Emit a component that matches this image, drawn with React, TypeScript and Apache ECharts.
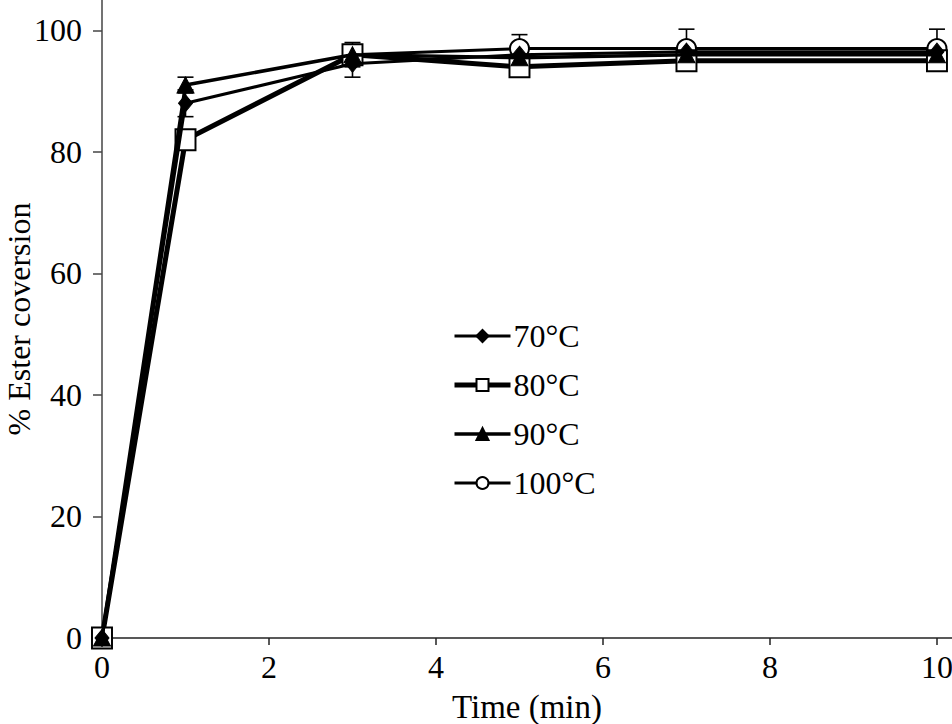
import React, { useEffect, useRef } from "react";
import * as echarts from "echarts";

const times = [0, 1, 3, 5, 7, 10];
const s70 = [0, 88, 94.5, 96, 96.5, 96.5];
const s80 = [0, 82, 96, 94, 95, 95];
const s90 = [0, 91, 96, 95.5, 96, 96];
const s100 = [0, 82, 96, 97, 97, 97];
const e70 = [0, 2.2, 2.2, 0, 0, 0];
const e80 = [0, 0, 2, 0, 0, 0];
const e90 = [0, 1.3, 0, 0, 0, 0];
const e100 = [0, 0, 0, 2.3, 3.2, 3.2];
const xTicks = [0, 2, 4, 6, 8, 10];
const yTicks = [0, 20, 40, 60, 80, 100];
const names = ["70°C", "80°C", "90°C", "100°C"];

const FONT = "Liberation Serif";

export default function App() {
  const ref = useRef<HTMLDivElement>(null);
  useEffect(() => {
    if (!ref.current) return;
    const chart = echarts.init(ref.current, null, { renderer: "svg" });
    const pts = (ys: number[]) => times.map((t, i) => [t, ys[i]]);
    const errData: number[][] = [];
    [
      [s70, e70],
      [s80, e80],
      [s90, e90],
      [s100, e100],
    ].forEach(([ys, es]) => {
      times.forEach((t, i) => {
        if (es[i] > 0) errData.push([t, ys[i] - es[i], ys[i] + es[i]]);
      });
    });
    const lineSeries = (
      name: string,
      ys: number[],
      symbol: string,
      size: any,
      filled: boolean,
      width: number,
      z: number
    ) => ({
      type: "line",
      name,
      data: pts(ys),
      symbol,
      symbolSize: size,
      showAllSymbol: true,
      lineStyle: { color: "#000", width },
      itemStyle: filled
        ? { color: "#000", borderColor: "#000", borderWidth: 1 }
        : { color: "#fff", borderColor: "#000", borderWidth: 2 },
      z,
    });
    chart.setOption({
      animation: false,
      backgroundColor: "#fff",
      textStyle: { fontFamily: FONT, color: "#000" },
      grid: { left: 102, right: 0, top: 0, bottom: 86, containLabel: false, outerBoundsMode: "none" },
      legend: {
        orient: "vertical",
        left: 447,
        top: 315,
        itemWidth: 56,
        itemHeight: 15,
        itemGap: 17,
        data: [
          { name: names[0], lineStyle: { width: 3 } },
          { name: names[1], lineStyle: { width: 5 } },
          { name: names[2], lineStyle: { width: 3.5 } },
          { name: names[3], lineStyle: { width: 3 } },
        ],
        textStyle: { fontFamily: FONT, fontSize: 32, color: "#000", padding: [0, 0, 0, -2] },
      },
      xAxis: {
        type: "value",
        min: 0,
        max: 10.18,
        name: "Time (min)",
        nameLocation: "middle",
        nameGap: 52,
        nameMoveOverlap: false,
        nameTextStyle: { fontFamily: FONT, fontSize: 33, color: "#000", lineHeight: 33 },
        axisLine: { show: true, onZero: false, lineStyle: { color: "#222", width: 1.5 } },
        axisTick: { show: true, length: 7, customValues: xTicks, lineStyle: { color: "#222", width: 1.5 } },
        axisLabel: { customValues: xTicks, fontFamily: FONT, fontSize: 32, color: "#000", margin: 13 },
        splitLine: { show: false },
      },
      yAxis: {
        type: "value",
        min: 0,
        max: 105,
        name: "% Ester coversion",
        nameLocation: "middle",
        nameGap: 67,
        nameMoveOverlap: false,
        nameTextStyle: { fontFamily: FONT, fontSize: 32, color: "#000", lineHeight: 32 },
        axisLine: { show: true, onZero: false, lineStyle: { color: "#444", width: 1.5 } },
        axisTick: { show: true, length: 9, customValues: yTicks, lineStyle: { color: "#444", width: 1.5 } },
        axisLabel: { customValues: yTicks, fontFamily: FONT, fontSize: 32, color: "#000", margin: 20 },
        splitLine: { show: false },
      },
      series: [
        {
          type: "custom",
          name: "err",
          data: errData,
          z: 2,
          renderItem: (params: any, api: any) => {
            const x = api.value(0);
            const lo = api.coord([x, api.value(1)]);
            const hi = api.coord([x, api.value(2)]);
            const hw = 8;
            const st = { stroke: "#000", lineWidth: 1.6 };
            return {
              type: "group",
              children: [
                { type: "line", shape: { x1: lo[0], y1: lo[1], x2: hi[0], y2: hi[1] }, style: st },
                { type: "line", shape: { x1: hi[0] - hw, y1: hi[1], x2: hi[0] + hw, y2: hi[1] }, style: st },
                { type: "line", shape: { x1: lo[0] - hw, y1: lo[1], x2: lo[0] + hw, y2: lo[1] }, style: st },
              ],
            };
          },
        },
        lineSeries(names[0], s70, "diamond", [14, 17], true, 3, 5),
        lineSeries(names[1], s80, "rect", [20, 21], false, 5, 4),
        lineSeries(names[2], s90, "triangle", [17, 16], true, 3.5, 5),
        lineSeries(names[3], s100, "circle", 19, false, 3, 3),
      ],
    });
    return () => chart.dispose();
  }, []);
  return (
    <div
      ref={ref}
      style={{ position: "fixed", left: 0, top: 0, width: 952, height: 724, background: "#fff" }}
    />
  );
}
